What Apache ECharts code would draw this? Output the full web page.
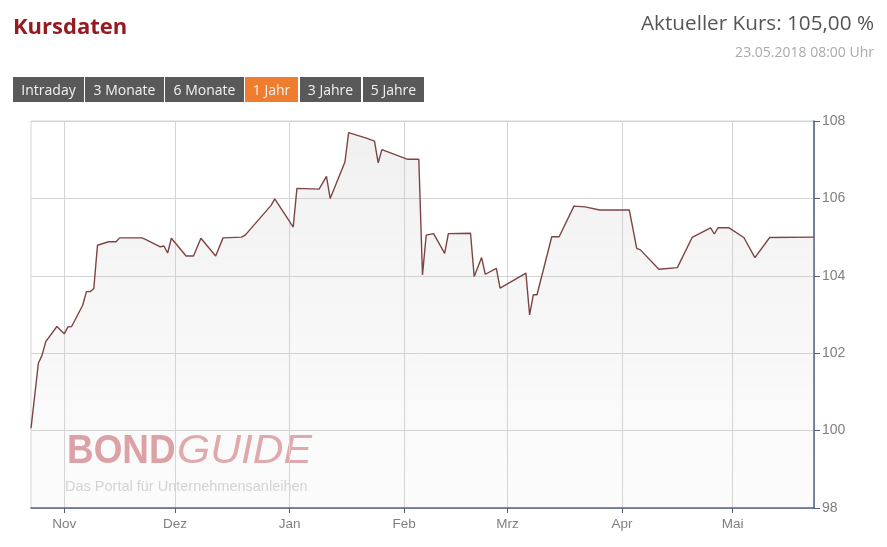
<!DOCTYPE html>
<html>
<head>
<meta charset="utf-8">
<script src="https://cdn.jsdelivr.net/npm/echarts@6/dist/echarts.min.js"></script>
<style>
html,body{margin:0;padding:0;background:#fff;}
#chart{width:887px;height:547px;}
</style>
</head>
<body>
<div id="chart"></div>
<script>
// ---- Data ----
const dates = [
 '2017-10-23','2017-10-25','2017-10-26','2017-10-27','2017-10-30','2017-11-01','2017-11-02','2017-11-03',
 '2017-11-06','2017-11-07','2017-11-08','2017-11-09','2017-11-10','2017-11-13','2017-11-15','2017-11-16',
 '2017-11-22','2017-11-23','2017-11-27','2017-11-28','2017-11-29','2017-11-30','2017-12-04','2017-12-06',
 '2017-12-08','2017-12-12','2017-12-14','2017-12-19','2017-12-20','2017-12-27','2017-12-28','2018-01-02',
 '2018-01-03','2018-01-09','2018-01-11','2018-01-12','2018-01-16','2018-01-17','2018-01-22','2018-01-24',
 '2018-01-25','2018-01-26','2018-02-02','2018-02-05','2018-02-06','2018-02-07','2018-02-09','2018-02-12',
 '2018-02-13','2018-02-19','2018-02-20','2018-02-22','2018-02-23','2018-02-26','2018-02-27','2018-03-06',
 '2018-03-07','2018-03-08','2018-03-09','2018-03-13','2018-03-15','2018-03-19','2018-03-22','2018-03-26',
 '2018-04-03','2018-04-05','2018-04-06','2018-04-11','2018-04-16','2018-04-20','2018-04-25','2018-04-26',
 '2018-04-27','2018-04-30','2018-05-04','2018-05-07','2018-05-11','2018-05-23'
];
const prices = [
 100.06,101.74,101.95,102.30,102.69,102.50,102.68,102.69,
 103.24,103.59,103.59,103.67,104.79,104.88,104.88,104.98,
 104.98,104.94,104.75,104.77,104.59,104.97,104.51,104.51,
 104.97,104.51,104.98,105.00,105.05,105.82,105.99,105.26,
 106.26,106.24,106.57,106.00,106.94,107.70,107.55,107.48,
 106.92,107.26,107.01,107.01,104.02,105.05,105.09,104.58,
 105.09,105.10,103.98,104.47,104.04,104.19,103.68,104.07,
 102.99,103.51,103.51,105.01,105.01,105.80,105.78,105.70,
 105.70,104.71,104.67,104.17,104.21,104.99,105.24,105.08,
 105.24,105.24,104.99,104.47,104.99,105.00
];
const monthNames = ['Jan','Feb','Mrz','Apr','Mai','Jun','Jul','Aug','Sep','Okt','Nov','Dez'];
const monthTicks = ['2017-11-01','2017-12-01','2018-01-01','2018-02-01','2018-03-01','2018-04-01','2018-05-01'];
const yTicks = [98,100,102,104,106,108];
const buttonLabels = ['Intraday','3 Monate','6 Monate','1 Jahr','3 Jahre','5 Jahre'];
const activeButton = '1 Jahr';
const titleText = 'Kursdaten';
const kursText = 'Aktueller Kurs: 105,00 %';
const dateText = '23.05.2018 08:00 Uhr';
const logoBold = 'BOND';
const logoLight = 'GUIDE';
const logoSub = 'Das Portal für Unternehmensanleihen';

// ---- Chart ----
function ts(s){ const p = s.split('-').map(Number); return Date.UTC(p[0], p[1]-1, p[2]); }
const seriesData = dates.map((d,i)=>[ts(d), prices[i]]);
const tickValues = monthTicks.map(ts);

const chart = echarts.init(document.getElementById('chart'), null, {renderer:'canvas'});

const btnX = [13, 85, 165, 245, 300, 363];
const btnW = [71, 79, 79, 53, 61, 61];
const graphics = [
  {type:'text', left:13, top:17, style:{text:titleText, fill:'#941b21', font:'bold 22px "Open Sans"'}},
  {type:'text', right:13, top:14, style:{text:kursText, fill:'#555555', font:'20.7px "Open Sans"'}},
  {type:'text', right:13, top:46, style:{text:dateText, fill:'#aaaaaa', font:'14px "Open Sans"'}},
  {type:'text', x:67, y:431, scaleX:0.9, z:-1, style:{text:logoBold, fill:'#dc9a9e', font:'bold 41px "Liberation Sans"'}},
  {type:'text', x:177, y:431, scaleX:1.04, z:-1, style:{text:logoLight, fill:'#e0a3a7', font:'italic 41px "Liberation Sans"'}},
  {type:'text', x:65, y:479, z:-1, style:{text:logoSub, fill:'#d2d2d2', font:'14.5px "Liberation Sans"'}}
];
buttonLabels.forEach((lab,i)=>{
  const active = lab === activeButton;
  graphics.push({type:'rect', shape:{x:btnX[i], y:77, width:btnW[i], height:25},
    style:{fill: active ? '#f07c2d' : '#595959'}});
  graphics.push({type:'text', x:btnX[i]+btnW[i]/2, y:91,
    style:{text:lab, fill:'#f2f2f2', font:'14px "Open Sans"', align:'center', verticalAlign:'middle'}});
});

chart.setOption({
  animation:false,
  graphic: graphics,
  grid:{left:31, right:73, top:121, bottom:39, show:true, borderColor:'#d4d4d4', borderWidth:1, backgroundColor:'transparent'},
  xAxis:{
    type:'value',
    min: ts('2017-10-23'),
    max: ts('2018-05-23'),
    axisLine:{show:true, lineStyle:{color:'#4d5d7d', width:1.5}},
    axisTick:{show:true, length:5, customValues: tickValues, lineStyle:{color:'#4d5d7d'}},
    axisLabel:{customValues: tickValues, color:'#808080', fontSize:13.5, fontFamily:'Liberation Sans', margin:9,
      formatter: v => monthNames[new Date(v).getUTCMonth()]},
    splitLine:{show:true, lineStyle:{color:'#d4d4d4', width:1}}
  },
  yAxis:{
    type:'value',
    position:'right',
    min:98, max:108, interval:2,
    axisLine:{show:true, lineStyle:{color:'#4d5d7d', width:1.5}},
    axisTick:{show:true, length:6, lineStyle:{color:'#4d5d7d'}},
    axisLabel:{color:'#808080', fontSize:14, fontFamily:'Liberation Sans', margin:8,
      formatter: v => String(v)},
    splitLine:{show:true, lineStyle:{color:'#d4d4d4', width:1}}
  },
  series:[{
    type:'line',
    data: seriesData,
    showSymbol:false,
    symbol:'none',
    lineStyle:{color:'#7e4444', width:1.4},
    areaStyle:{
      origin:'start',
      color: new echarts.graphic.LinearGradient(0,0,0,1,[
        {offset:0, color:'rgba(190,190,190,0.32)'},
        {offset:1, color:'rgba(220,220,220,0.14)'}
      ])
    },
    z:3
  }]
});
</script>
</body>
</html>
